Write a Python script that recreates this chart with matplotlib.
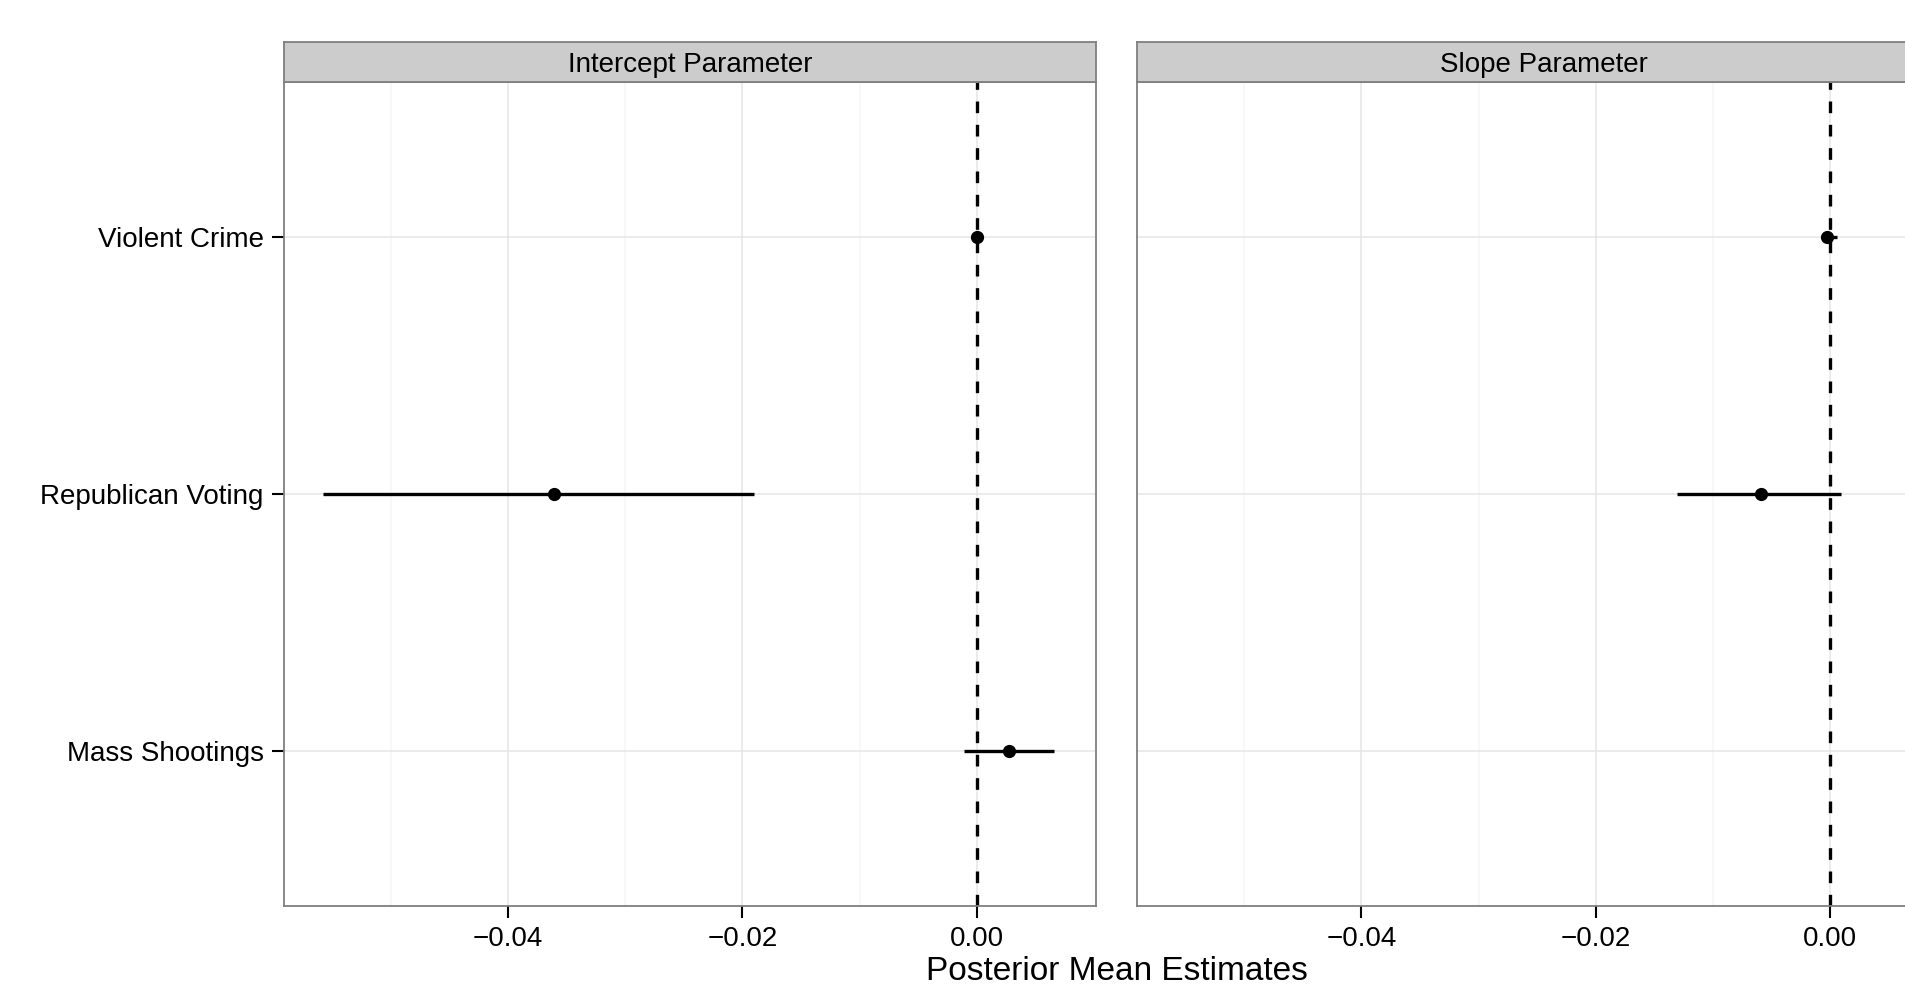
import numpy as np
import matplotlib
matplotlib.use('Agg')
import matplotlib.pyplot as plt

plt.rcParams['font.family'] = ['Liberation Sans', 'DejaVu Sans']

# data
categories = ['Violent Crime', 'Republican Voting', 'Mass Shootings']
panels = ['Intercept Parameter', 'Slope Parameter']

intercept_mean = [0.0, -0.0361, 0.00275]
intercept_lo = [-0.0002, -0.0558, -0.0011]
intercept_hi = [0.0002, -0.0190, 0.0066]

slope_mean = [-0.0003, -0.0059, np.nan]   # mass shootings is off the visible area
slope_lo = [-0.0005, -0.0131, np.nan]
slope_hi = [0.0006, 0.0009, np.nan]

x_ticks = [-0.04, -0.02, 0.00]
x_tick_labels = ['\u22120.04', '\u22120.02', '0.00']
x_minor = [-0.05, -0.03, -0.01]

W, H = 1906, 988
fig = plt.figure(figsize=(W/100, H/100), dpi=100)

def fx(px):
    return px / W

def fy(py):
    return 1 - py / H

panel_w = 812.5
lefts = [284, 1137.5]
top, bottom = 82.5, 905.5
strip_top = 42.5

means = [intercept_mean, slope_mean]
los = [intercept_lo, slope_lo]
his = [intercept_hi, slope_hi]
ypos = np.arange(len(categories))[::-1] + 1  # Violent Crime on top

for k, name in enumerate(panels):
    ax = fig.add_axes([fx(lefts[k]), fy(bottom), fx(panel_w), (bottom-top)/H])
    ax.set_xlim(-0.0591, 0.0102)
    ax.set_ylim(0.4, 3.6)
    ax.set_xticks(x_ticks)
    ax.set_xticklabels(x_tick_labels)
    ax.set_xticks(x_minor, minor=True)
    ax.set_yticks(ypos)
    ax.set_axisbelow(True)
    ax.grid(which='major', color='#e5e5e5', linewidth=1.1)
    ax.grid(which='minor', axis='x', color='#f7f7f7', linewidth=1.1)
    ax.tick_params(which='minor', length=0)
    ax.tick_params(axis='x', which='major', length=8.5, width=1.5, color='black',
                   labelsize=20, pad=6.5)
    if k == 0:
        ax.set_yticklabels(categories)
        ax.tick_params(axis='y', length=8.5, width=1.5, color='black',
                       labelsize=20, pad=6)
    else:
        ax.tick_params(axis='y', length=0, labelleft=False)
    for s in ax.spines.values():
        s.set_color('#7f7f7f')
        s.set_linewidth(1.3)

    ax.axvline(0, color='black', linewidth=2.4, linestyle=(0, (3.5, 3.5)), zorder=2)
    m = np.array(means[k])
    lo = np.array(los[k])
    hi = np.array(his[k])
    ax.hlines(ypos, lo, hi, color='black', linewidth=2.4, zorder=3)
    ax.plot(m, ypos, 'o', color='black', markersize=8.5, zorder=4)

    # facet strip
    sax = fig.add_axes([fx(lefts[k]), fy(top), fx(panel_w), (top-strip_top)/H])
    sax.set_facecolor('#cccccc')
    sax.set_xticks([])
    sax.set_yticks([])
    for s in sax.spines.values():
        s.set_color('#7f7f7f')
        s.set_linewidth(1.3)
    sax.text(0.5, 0.44, name, transform=sax.transAxes, ha='center', va='center',
             fontsize=20)

fig.text(fx(1117), fy(980), 'Posterior Mean Estimates', ha='center',
         va='baseline', fontsize=24)

fig.savefig('out.png', dpi=100, facecolor='white')
